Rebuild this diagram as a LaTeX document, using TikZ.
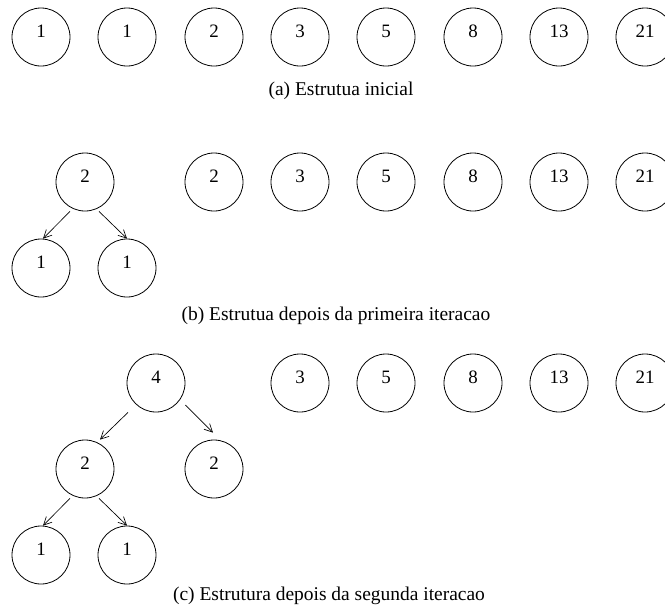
\documentclass[tikz,border=0pt]{standalone}
\usepackage{fontspec}
\setmainfont{Liberation Serif}
\usetikzlibrary{arrows.meta,calc}
\tikzset{
  elem/.style={draw, circle, minimum size=43.5pt, inner sep=0pt, text height=8pt, text depth=8pt, line width=0.6pt},
  seta/.style={-{Straight Barb[length=6pt,width=6pt]}, line width=0.5pt},
  legenda/.style={anchor=base, font=\fontsize{14.6}{17}\selectfont}
}
\begin{document}
\begin{tikzpicture}[x=0.75pt, y=-0.75pt, font=\fontsize{14.2}{17}\selectfont]
    \useasboundingbox (0, 0) rectangle (665, 612);
    % (a)
    \node[elem] (a1) at (41, 37) {1};
    \node[elem] (a2) at (127, 37) {1};
    \node[elem] (a3) at (214, 37) {2};
    \node[elem] (a4) at (300, 37) {3};
    \node[elem] (a5) at (386, 37) {5};
    \node[elem] (a6) at (473, 37) {8};
    \node[elem] (a7) at (559, 37) {13};
    \node[elem] (a8) at (645, 37) {21};
    \node[legenda] (legA) at (341, 95) {(a) Estrutua inicial};
    % (b)
    \node[elem] (b2) at (85, 182) {2};
    \node[elem] (b1e) at (41, 268) {1};
    \node[elem] (b1d) at (127, 268) {1};
    \node[elem] (b3) at (214, 182) {2};
    \node[elem] (b4) at (300, 182) {3};
    \node[elem] (b5) at (386, 182) {5};
    \node[elem] (b6) at (473, 182) {8};
    \node[elem] (b7) at (559, 182) {13};
    \node[elem] (b8) at (645, 182) {21};
    \draw[seta] ($(b2.south)+(-15, 0)$) -- ($(b1e.north)+(2, 0)$);
    \draw[seta] ($(b2.south)+(14, 0)$) -- (b1d.north);
    \node[legenda] (legB) at (336, 320) {(b) Estrutua depois da primeira iteracao};
    % (c)
    \node[elem] (c4) at (156, 383) {4};
    \node[elem] (c2e) at (85, 469) {2};
    \node[elem] (c2d) at (214, 469) {2};
    \node[elem] (c1e) at (41, 555) {1};
    \node[elem] (c1d) at (127, 555) {1};
    \node[elem] (c5) at (300, 383) {3};
    \node[elem] (c6) at (386, 383) {5};
    \node[elem] (c7) at (473, 383) {8};
    \node[elem] (c8) at (559, 383) {13};
    \node[elem] (c9) at (645, 383) {21};
    \draw[seta] ($(c4.south)+(-28, 0)$) -- ($(c2e.north)+(15, 0)$);
    \draw[seta] ($(c4.east)+(0, 22)$) -- ($(c2d.north)+(-1, -7)$);
    \draw[seta] ($(c2e.south)+(-15, 0)$) -- ($(c1e.north)+(2, 0)$);
    \draw[seta] ($(c2e.south)+(14, 0)$) -- (c1d.north);
    \node[legenda] (legC) at (329, 600) {(c) Estrutura depois da segunda iteracao};
\end{tikzpicture}
\end{document}
